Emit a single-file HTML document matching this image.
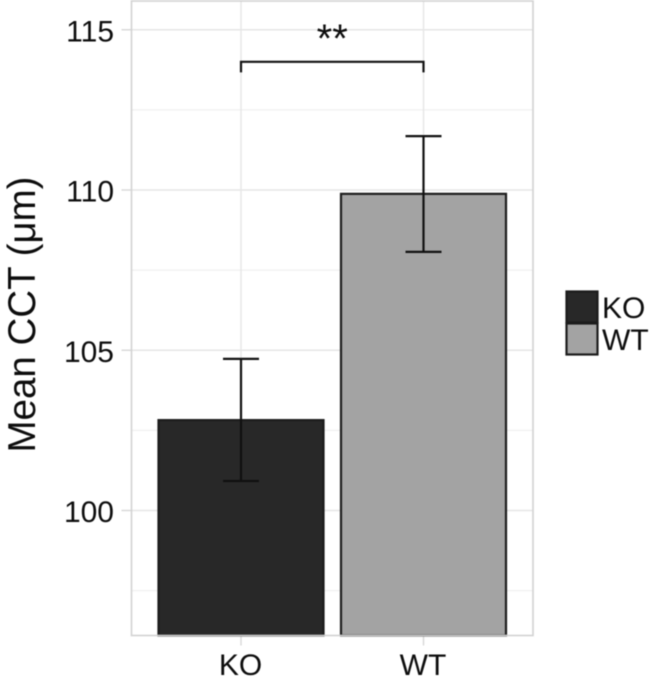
<!DOCTYPE html>
<html lang="en">
<head>
<meta charset="utf-8">
<title>Mean CCT bar chart</title>
<style>
html,body{margin:0;padding:0;background:#fff;width:650px;height:677px;overflow:hidden}
svg{display:block;filter:blur(.5px)}
text{font-family:"Liberation Sans",sans-serif;fill:#0d0d0d}
</style>
</head>
<body>
<svg id="chart" width="650" height="677" viewBox="0 0 650 677" xmlns="http://www.w3.org/2000/svg"></svg>
<script>
const categories = ['KO', 'WT'];
const means = [102.82, 109.88];
const errorLow = [100.92, 108.07];
const errorHigh = [104.73, 111.68];
const fills = ['#282828', '#a3a3a3'];
const majorTicks = [100, 105, 110, 115];
const minorTicks = [97.5, 102.5, 107.5, 112.5];
const bracketValue = 114;
const bracketTipValue = 113.67;
const significanceLabel = '**';

const svg = document.getElementById('chart');
const NS = 'http://www.w3.org/2000/svg';
const panel = {left: 131.5, right: 533, top: 1, bottom: 635.5};
const yAxis = v => 510.5 - (v - 100) * 32.05;
const xAxis = i => 241 + i * 182.5;
const barHalf = 82.5;
const capHalf = 18;

function add(tag, attrs, text) {
  const el = document.createElementNS(NS, tag);
  for (const k in attrs) el.setAttribute(k, attrs[k]);
  if (text !== undefined) el.textContent = text;
  svg.appendChild(el);
  return el;
}
function line(x1, y1, x2, y2, stroke, width) {
  return add('line', {x1, y1, x2, y2, stroke, 'stroke-width': width});
}

minorTicks.forEach(v => {
  const el = line(panel.left, yAxis(v), panel.right, yAxis(v), '#f0f0f0', 1.2);
  
  
});
majorTicks.forEach(v => {
  const el = line(panel.left, yAxis(v), panel.right, yAxis(v), '#e6e6e6', 1.4);
  
  
  const tick = line(panel.left - 10, yAxis(v), panel.left, yAxis(v), '#d4d4d4', 1.3);
  
  
  const label = add('text', {x: 114, y: yAxis(v) + 11.5, 'text-anchor': 'end', 'font-size': 30}, String(v));
  
  
});
categories.forEach((c, i) => {
  const el = line(xAxis(i), panel.top, xAxis(i), panel.bottom, '#e6e6e6', 1.4);
  
  
  const tick = line(xAxis(i), panel.bottom, xAxis(i), panel.bottom + 10, '#d4d4d4', 1.3);
  
  
  const label = add('text', {x: xAxis(i) - 0.5, y: 675, 'text-anchor': 'middle', 'font-size': 30}, c);
  
  
});

categories.forEach((c, i) => {
  const top = yAxis(means[i]);
  const bar = add('rect', {x: xAxis(i) - barHalf, y: top, width: barHalf * 2, height: panel.bottom - top, fill: fills[i], stroke: '#1c1c1c', 'stroke-width': 2.2});
  
  
});

const border = add('rect', {x: panel.left, y: panel.top, width: panel.right - panel.left, height: panel.bottom - panel.top, fill: 'none', stroke: '#d2d2d2', 'stroke-width': 1.6});



categories.forEach((c, i) => {
  const x = xAxis(i);
  const stem = line(x, yAxis(errorLow[i]), x, yAxis(errorHigh[i]), '#111', 2.2);
  
  
  [errorLow[i], errorHigh[i]].forEach(v => {
    const cap = line(x - capHalf, yAxis(v), x + capHalf, yAxis(v), '#111', 2.2);
    
    
  });
});

const bracket = add('path', {
  d: 'M' + xAxis(0) + ' ' + yAxis(bracketTipValue) + 'V' + yAxis(bracketValue) + 'H' + xAxis(1) + 'V' + yAxis(bracketTipValue),
  fill: 'none', stroke: '#111', 'stroke-width': 2.2
});


const stars = add('text', {x: (xAxis(0) + xAxis(1)) / 2, y: 52, 'text-anchor': 'middle', 'font-size': 40}, significanceLabel);



const title = add('text', {x: 0, y: 0, transform: 'translate(35 314.5) rotate(-90)', 'text-anchor': 'middle', 'font-size': 38.5}, 'Mean CCT (μm)');



categories.forEach((c, i) => {
  const y = 291.5 + i * 32;
  const key = add('rect', {x: 566.5, y, width: 31, height: 31, fill: fills[i], stroke: '#1c1c1c', 'stroke-width': 2.2});
  
  
  const label = add('text', {x: 602, y: y + 26.5, 'font-size': 30}, c);
  
  
});
</script>
</body>
</html>
